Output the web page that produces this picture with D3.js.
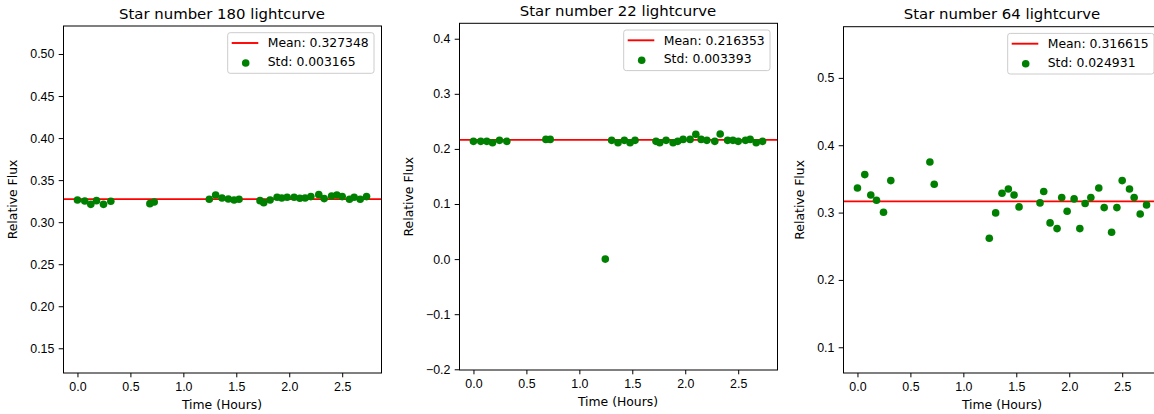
<!DOCTYPE html>
<html lang="en">
<head>
  <meta charset="UTF-8">
  <title>Star lightcurves</title>
  <script src="https://cdn.jsdelivr.net/npm/d3@7"></script>
  <style>
    body { margin: 0; background: #fff; }
    svg { display: block; font-family: "DejaVu Sans", sans-serif; }
    .tick text { font-size: 12.4px; fill: #000; }
    .tick line { stroke: #000; stroke-width: 1px; }
    .frame { fill: none; stroke: #000; stroke-width: 1px; }
    .mean { stroke: red; stroke-width: 1.9px; }
    .dot { fill: green; }
    .legend-box { fill: #fff; fill-opacity: 0.8; stroke: #ccc; stroke-width: 1px; }
    .label { font-size: 12.4px; fill: #000; }
    .title { font-size: 14.9px; fill: #000; }
  </style>
</head>
<body>
<script>
  // observation times, shared by all three stars
  const times = [0, 0.069, 0.126, 0.18, 0.246, 0.315, 0.684, 0.725,
    1.245, 1.305, 1.365, 1.425, 1.479, 1.526,
    1.724, 1.759, 1.819, 1.885, 1.929, 1.98, 2.046, 2.1, 2.15, 2.204, 2.279,
    2.33, 2.4, 2.45, 2.5, 2.569, 2.613, 2.67, 2.73];

  const flux180 = [0.3264, 0.3252, 0.3212, 0.3256, 0.3212, 0.3248, 0.322, 0.324,
    0.3272, 0.3323, 0.3288, 0.3276, 0.3264, 0.3272,
    0.3256, 0.3232, 0.3264, 0.3296, 0.3288, 0.3296, 0.3296, 0.3284, 0.3288, 0.3304, 0.3327,
    0.328, 0.3311, 0.3323, 0.3304, 0.3272, 0.3296, 0.3272, 0.3304];
  const flux22 = [0.2137, 0.2137, 0.2137, 0.2113, 0.2155, 0.2137, 0.2173, 0.2173,
    0.0, 0.2155, 0.2113, 0.2155, 0.2113, 0.2155,
    0.2137, 0.2113, 0.2155, 0.2113, 0.2137, 0.2173, 0.2173, 0.2264, 0.2173, 0.2155, 0.2137,
    0.227, 0.2155, 0.2155, 0.2137, 0.2155, 0.2173, 0.2113, 0.2137];
  const flux64 = [0.3366, 0.3564, 0.3262, 0.3183, 0.3005, 0.3475, 0.3752, 0.3421,
    0.2619, 0.2995, 0.3287, 0.3351, 0.3262, 0.3084,
    0.3144, 0.3312, 0.2847, 0.2762, 0.3223, 0.302, 0.3203, 0.2762, 0.3134, 0.3223, 0.3366,
    0.3074, 0.2708, 0.3074, 0.3475, 0.3351, 0.3223, 0.298, 0.3114];

  const starNumbers = [180, 22, 64];
  const means = [0.327348, 0.216353, 0.316615];
  const stds = [0.003165, 0.003393, 0.024931];
  const xTicks = [0, 0.5, 1.0, 1.5, 2.0, 2.5];
  const yTicks = [
    [0.15, 0.20, 0.25, 0.30, 0.35, 0.40, 0.45, 0.50],
    [-0.2, -0.1, 0.0, 0.1, 0.2, 0.3, 0.4],
    [0.1, 0.2, 0.3, 0.4, 0.5]
  ];
  const yFormats = ['.2f', '.1f', '.1f'];
  const xLimits = [-0.1365, 2.8665];
  const yLimits = [[0.1206, 0.5333], [-0.2013, 0.428], [0.0618, 0.576]];
  const fluxes = [flux180, flux22, flux64];

  const width = 1154, height = 414;
  // axes boxes: left, top, width, height
  const boxes = [
    { left: 63, top: 26, w: 318, h: 347 },
    { left: 459, top: 23.3, w: 318, h: 346.7 },
    { left: 843, top: 26.7, w: 318, h: 346.3 }
  ];

  const svg = d3.select('body').append('svg')
    .attr('width', width).attr('height', height);

  boxes.forEach(function(b, i){
    const g = svg.append('g').attr('transform', `translate(${b.left},${b.top})`);
    const x = d3.scaleLinear().domain(xLimits).range([0, b.w]);
    const y = d3.scaleLinear().domain(yLimits[i]).range([b.h, 0]);

    const xAxis = g.append('g').attr('transform', `translate(0,${b.h})`)
      .call(d3.axisBottom(x).tickValues(xTicks).tickFormat(d3.format('.1f'))
        .tickSize(4.3).tickPadding(4.6));
    xAxis.select('.domain').remove();

    const yAxis = g.append('g')
      .call(d3.axisLeft(y).tickValues(yTicks[i]).tickFormat(d3.format(yFormats[i]))
        .tickSize(4.3).tickPadding(4.3));
    yAxis.select('.domain').remove();
    g.selectAll('.tick text').attr('font-family', null).attr('font-size', null);

    // mean line across the whole axes
    g.append('line').attr('class', 'mean')
      .attr('x1', 0).attr('x2', b.w)
      .attr('y1', y(means[i])).attr('y2', y(means[i]));

    g.selectAll('circle.dot').data(times.map((t, k) => ({ t: t, f: fluxes[i][k] })))
      .enter().append('circle')
        .attr('class', 'dot')
        .attr('cx', d => x(d.t))
        .attr('cy', d => y(d.f))
        .attr('r', 3.8);

    g.append('rect').attr('class', 'frame')
      .attr('x', 0.5).attr('y', 0).attr('width', b.w).attr('height', b.h);

    // legend, upper right
    const lg = g.append('g');
    const box = lg.append('rect').attr('class', 'legend-box').attr('rx', 2.5);
    const t1 = lg.append('text').attr('class', 'label')
      .attr('x', 40).attr('y', 10.3).attr('dy', '0.36em')
      .text('Mean: ' + d3.format('.6f')(means[i]));
    lg.append('text').attr('class', 'label')
      .attr('x', 40).attr('y', 28.8).attr('dy', '0.36em')
      .text('Std: ' + d3.format('.6f')(stds[i]));
    lg.append('line').attr('class', 'mean')
      .attr('x1', 4).attr('x2', 30.6).attr('y1', 10.3).attr('y2', 10.3);
    lg.append('circle').attr('class', 'dot').attr('cx', 18).attr('cy', 30.3).attr('r', 3.8);
    const lw = 40 + t1.node().getComputedTextLength() + 5.3;
    box.attr('x', 0).attr('y', 0).attr('width', lw).attr('height', 40.6);
    lg.attr('transform', `translate(${b.w - 7 - lw},6.7)`);

    // labels
    const yb = yAxis.node().getBBox();
    g.append('text').attr('class', 'label')
      .attr('transform', `translate(${yb.x - 17.5},${b.h / 2}) rotate(-90)`)
      .attr('text-anchor', 'middle').attr('dy', '0.36em')
      .text('Relative Flux');
    g.append('text').attr('class', 'label')
      .attr('x', b.w / 2).attr('y', b.h + 32).attr('dy', '0.36em')
      .attr('text-anchor', 'middle')
      .text('Time (Hours)');
    g.append('text').attr('class', 'title')
      .attr('x', b.w / 2).attr('y', -12.8).attr('dy', '0.36em')
      .attr('text-anchor', 'middle')
      .text(`Star number ${starNumbers[i]} lightcurve`);
  });
</script>
</body>
</html>
